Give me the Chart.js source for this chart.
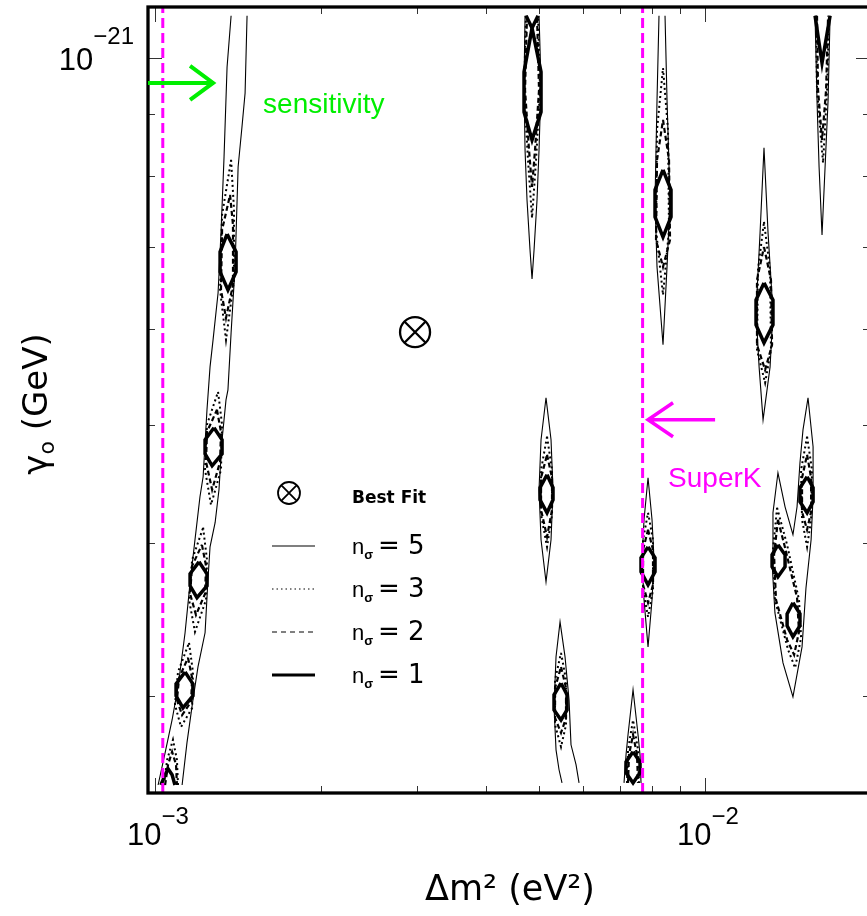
<!DOCTYPE html>
<html>
<head>
<meta charset="utf-8">
<title>gamma0 vs dm2 contours</title>
<script src="https://cdn.jsdelivr.net/npm/chart.js@4.4.1/dist/chart.umd.min.js"></script>
<style>
  html, body { margin: 0; padding: 0; background: #fff; overflow: hidden; }
  #box { width: 867px; height: 916px; overflow: hidden; position: relative; }
  #box canvas { position: absolute; left: 0; top: 0; }
</style>
</head>
<body>
<div id="box"><canvas id="contours" width="880" height="916"></canvas></div>
<script>
// units used in the arrays below
const DM2_UNIT = 1e-3;     // eV^2
const GAMMA_UNIT = 1e-22;  // GeV

// axis limits
const dm2Range = [0.971, 19.95];
const gammaRange = [2.497, 11.01];

// tick marks
const dm2Ticks = [1, 2, 3, 4, 5, 6, 7, 8, 9, 10, 20];
const dm2Decades = [1, 10];
const dm2DecadeExp = ['\u22123', '\u22122'];
const gammaTicks = [3, 4, 5, 6, 7, 8, 9, 10];
const gammaDecades = [10];
const gammaDecadeExp = ['\u221221'];

// best fit and vertical reference lines
const bestFit = [2.97, 5.96];
const sensitivityDm2 = 1.033;
const superKDm2 = 7.70;

// legend
const legendSigmas = [5, 3, 2, 1];

// ---- left band (1.0 - 1.5e-3) ----
const bandLeft5 = [[1.375,10.83],[1.352,9.832],[1.335,8.297],[1.318,7.185],[1.302,6.417],[1.275,5.874],[1.259,5.582],[1.243,5.147],[1.223,4.536],[1.207,4.368],[1.182,4.027],[1.158,3.713],[1.134,3.379],[1.101,3.049],[1.074,2.866],[1.043,2.694],[1.013,2.535]];
const bandRight5 = [[1.470,10.83],[1.458,9.361],[1.439,8.779],[1.416,8.141],[1.398,6.741],[1.375,5.952],[1.357,5.345],[1.346,5.245],[1.324,4.864],[1.307,4.426],[1.286,4.159],[1.259,3.974],[1.248,3.734],[1.233,3.379],[1.197,3.168],[1.172,2.977],[1.143,2.745],[1.120,2.535]];

const band1a = [[1.352,7.171],[1.404,6.935],[1.404,6.678],[1.357,6.454],[1.313,6.678],[1.313,6.935],[1.352,7.171]];
const band1b = [[1.280,4.975],[1.324,4.864],[1.324,4.737],[1.270,4.631],[1.233,4.737],[1.233,4.864],[1.280,4.975]];
const band1c = [[1.202,3.863],[1.243,3.777],[1.243,3.692],[1.192,3.610],[1.158,3.692],[1.158,3.777],[1.202,3.863]];
const band1d = [[1.134,3.138],[1.172,3.068],[1.172,3.000],[1.124,2.932],[1.092,3.000],[1.092,3.068],[1.134,3.138]];
const band1e = [[1.025,2.535],[1.043,2.584],[1.056,2.614],[1.074,2.584],[1.087,2.535]];

const band3a = [[1.375,8.250],[1.392,7.506],[1.392,6.577],[1.346,5.874],[1.313,6.454],[1.324,7.436],[1.375,8.250]];
const band3b = [[1.302,5.325],[1.324,5.004],[1.318,4.596],[1.264,4.302],[1.233,4.596],[1.243,5.004],[1.302,5.325]];
const band3c = [[1.223,4.120],[1.243,3.878],[1.238,3.596],[1.182,3.385],[1.153,3.596],[1.168,3.878],[1.223,4.120]];
const band3d = [[1.153,3.315],[1.172,3.138],[1.168,2.932],[1.115,2.829],[1.087,2.949],[1.101,3.138],[1.153,3.315]];
const band3e = [[1.038,2.535],[1.052,2.658],[1.078,2.761],[1.096,2.658],[1.101,2.535]];

const band2a = [[1.369,7.722],[1.386,7.297],[1.386,6.516],[1.346,6.122],[1.318,6.454],[1.324,7.228],[1.369,7.722]];
const band2b = [[1.296,5.147],[1.318,4.938],[1.313,4.666],[1.270,4.426],[1.238,4.666],[1.243,4.938],[1.296,5.147]];
const band2c = [[1.217,3.989],[1.238,3.834],[1.233,3.637],[1.187,3.495],[1.158,3.637],[1.168,3.834],[1.217,3.989]];
const band2d = [[1.148,3.223],[1.168,3.103],[1.163,2.966],[1.120,2.893],[1.096,2.977],[1.106,3.103],[1.148,3.223]];
const band2e = [[1.043,2.535],[1.056,2.634],[1.074,2.699],[1.092,2.634],[1.096,2.535]];

// ---- island near 4.8e-3, top ----
const islA5 = [[4.707,10.83],[4.687,9.539],[4.707,8.407],[4.746,7.649],[4.806,6.961],[4.847,6.590],[4.888,6.961],[4.949,7.649],[4.991,8.407],[5.033,9.539],[4.991,10.83]];
const islA1 = [[4.847,10.58],[5.033,9.739],[5.033,9.032],[4.847,8.567],[4.687,9.032],[4.687,9.739],[4.847,10.58]];
const islA1v = [[4.727,10.83],[4.847,10.58],[4.970,10.83]];
const islA3 = [[4.727,10.83],[4.687,9.414],[4.766,8.250],[4.847,7.393],[4.929,8.250],[5.012,9.414],[4.970,10.83]];
const islA2 = [[4.746,10.83],[4.707,9.414],[4.786,8.407],[4.847,7.838],[4.908,8.407],[4.991,9.414],[4.949,10.83]];

// ---- island near 8.4e-3, top ----
const islB5 = [[8.247,10.83],[8.179,9.238],[8.111,7.649],[8.179,6.741],[8.387,5.819],[8.529,6.741],[8.637,7.649],[8.529,9.238],[8.458,10.83]];
const islB1 = [[8.387,8.096],[8.673,7.795],[8.673,7.408],[8.387,7.131],[8.111,7.408],[8.111,7.795],[8.387,8.096]];
const islB3 = [[8.387,9.813],[8.564,8.730],[8.600,7.228],[8.387,6.393],[8.145,7.228],[8.179,8.730],[8.387,9.813]];
const islB2 = [[8.387,8.896],[8.600,8.250],[8.637,7.093],[8.387,6.741],[8.145,7.093],[8.179,8.250],[8.387,8.896]];

// ---- island near 1.63e-2, top ----
const islC5 = [[15.85,10.83],[15.98,9.238],[16.12,8.141],[16.32,7.158],[16.53,8.141],[16.74,9.238],[16.88,10.83]];
const islC1 = [[15.85,10.83],[16.32,9.906],[16.88,10.83]];
const islC3 = [[15.92,10.83],[15.98,9.414],[16.39,8.203],[16.67,9.414],[16.81,10.83]];
const islC2 = [[15.98,10.83],[16.05,9.414],[16.32,8.567],[16.60,9.414],[16.74,10.83]];

// ---- island near 1.28e-2 ----
const islD5 = [[12.80,8.439],[13.02,7.185],[13.29,6.192],[13.13,5.582],[12.75,5.051],[12.54,5.582],[12.38,6.192],[12.59,7.185],[12.80,8.439]];
const islD1 = [[12.80,6.540],[13.29,6.334],[13.29,6.042],[12.80,5.841],[12.38,6.042],[12.38,6.334],[12.80,6.540]];
const islD3 = [[12.80,7.338],[13.13,6.703],[13.18,5.764],[12.86,5.416],[12.43,5.764],[12.48,6.703],[12.80,7.338]];
const islD2 = [[12.80,7.000],[13.18,6.577],[13.24,5.819],[12.86,5.550],[12.43,5.819],[12.43,6.577],[12.80,7.000]];

// ---- merged islands 1.35 - 1.57e-2 ----
const islE5 = [[15.39,5.265],[15.72,4.800],[15.72,4.368],[15.59,4.027],[15.26,3.678],[15.01,3.290],[14.45,2.994],[13.86,3.192],[13.40,3.508],[13.24,3.856],[13.29,4.238],[13.57,4.570],[13.98,4.286],[14.45,4.066],[14.70,4.286],[14.88,4.658],[15.07,4.956],[15.39,5.265]];
const islE1a = [[15.33,4.536],[15.72,4.443],[15.72,4.327],[15.33,4.238],[14.88,4.327],[14.88,4.443],[15.33,4.536]];
const islE1b = [[13.57,3.989],[13.98,3.915],[13.98,3.827],[13.57,3.755],[13.24,3.827],[13.24,3.915],[13.57,3.989]];
const islE1c = [[14.45,3.576],[14.88,3.502],[14.88,3.424],[14.45,3.354],[14.10,3.424],[14.10,3.502],[14.45,3.576]];
const islEu3 = [[15.33,4.892],[15.65,4.596],[15.59,4.182],[15.33,3.974],[15.01,4.182],[14.95,4.596],[15.33,4.892]];
const islEu2 = [[15.33,4.728],[15.59,4.527],[15.59,4.246],[15.33,4.104],[15.01,4.246],[15.01,4.527],[15.33,4.728]];
const islEl3 = [[13.52,4.278],[14.10,3.989],[14.82,3.596],[14.95,3.347],[14.58,3.162],[14.16,3.272],[13.40,3.596],[13.29,3.952],[13.52,4.278]];
const islEl2 = [[13.57,4.182],[13.98,3.967],[14.70,3.610],[14.82,3.385],[14.52,3.241],[14.10,3.334],[13.46,3.596],[13.35,3.915],[13.57,4.182]];

// ---- island near 5.15e-3 ----
const islG5 = [[5.139,5.265],[5.248,4.864],[5.292,4.426],[5.248,4.027],[5.139,3.720],[5.033,4.027],[4.991,4.426],[5.033,4.864],[5.139,5.265]];
const islG1 = [[5.161,4.553],[5.292,4.443],[5.292,4.343],[5.161,4.238],[5.012,4.343],[5.012,4.443],[5.161,4.553]];
const islG3 = [[5.161,4.892],[5.270,4.596],[5.270,4.222],[5.161,3.974],[5.033,4.222],[5.033,4.596],[5.161,4.892]];
const islG2 = [[5.161,4.728],[5.270,4.527],[5.270,4.262],[5.161,4.050],[5.033,4.262],[5.033,4.527],[5.161,4.728]];

// ---- island near 5.5e-3, bottom ----
const islH5 = [[5.495,2.545],[5.427,2.609],[5.359,2.709],[5.314,2.938],[5.359,3.229],[5.450,3.449],[5.565,3.229],[5.659,2.977],[5.706,2.735],[5.827,2.634],[5.901,2.545]];
const islH1 = [[5.472,3.072],[5.612,3.006],[5.612,2.921],[5.472,2.866],[5.314,2.921],[5.314,3.006],[5.472,3.072]];
const islH3 = [[5.472,3.253],[5.588,3.091],[5.588,2.840],[5.472,2.724],[5.337,2.840],[5.337,3.091],[5.472,3.253]];
const islH2 = [[5.472,3.168],[5.588,3.045],[5.588,2.877],[5.472,2.797],[5.337,2.877],[5.337,3.045],[5.472,3.168]];

// ---- island near 7.4e-3, bottom ----
const islI5 = [[7.124,2.545],[7.184,2.684],[7.244,2.787],[7.398,3.034],[7.554,2.787],[7.617,2.684],[7.649,2.545]];
const islI1 = [[7.398,2.699],[7.617,2.648],[7.617,2.594],[7.398,2.545],[7.184,2.594],[7.184,2.648],[7.398,2.699]];
const islI3 = [[7.214,2.545],[7.244,2.709],[7.398,2.866],[7.554,2.709],[7.585,2.545]];
const islI2 = [[7.244,2.545],[7.274,2.684],[7.398,2.787],[7.522,2.684],[7.554,2.545]];

// ---- island near 7.9e-3 ----
const islJ5 = [[7.877,4.527],[8.010,4.182],[8.077,3.878],[8.010,3.596],[7.877,3.290],[7.746,3.596],[7.681,3.878],[7.746,4.182],[7.877,4.527]];
const islJ1 = [[7.877,3.974],[8.111,3.893],[8.111,3.791],[7.877,3.699],[7.649,3.791],[7.649,3.893],[7.877,3.974]];
const islJ3 = [[7.877,4.238],[8.043,4.027],[8.043,3.664],[7.877,3.482],[7.714,3.664],[7.714,4.027],[7.877,4.238]];
const islJ2 = [[7.877,4.104],[8.043,3.952],[8.043,3.699],[7.877,3.576],[7.714,3.699],[7.714,3.952],[7.877,4.104]];

// contours grouped by n_sigma
const sigma5 = [bandLeft5, bandRight5, islA5, islB5, islC5, islD5, islE5, islG5, islH5, islI5, islJ5];
const sigma3 = [band3a, band3b, band3c, band3d, band3e, islA3, islB3, islC3, islD3, islEu3, islEl3, islG3, islH3, islI3, islJ3];
const sigma2 = [band2a, band2b, band2c, band2d, band2e, islA2, islB2, islC2, islD2, islEu2, islEl2, islG2, islH2, islI2, islJ2];
const sigma1 = [band1a, band1b, band1c, band1d, band1e, islA1, islA1v, islB1, islC1, islD1, islE1a, islE1b, islE1c, islG1, islH1, islI1, islJ1];

// styles
const levelStyle = {
    5: {borderWidth: 1.1, borderDash: [], order: 4},
    3: {borderWidth: 2, borderDash: [2, 3], order: 3},
    2: {borderWidth: 2.2, borderDash: [5, 3], order: 2},
    1: {borderWidth: 3.5, borderDash: [], order: 1}
};
const legendStyle = {
    5: {w: 1.2, dash: []},
    3: {w: 1, dash: [1.5, 3]},
    2: {w: 1, dash: [5, 4]},
    1: {w: 3, dash: []}
};
const GREEN = '#00ee00', MAGENTA = '#ff00ff';
const TICK_FONT = '"Liberation Sans", Arial, sans-serif';
const TITLE_FONT = '"DejaVu Sans", Verdana, sans-serif';

const toPts = c => c.map(([x, y]) => ({x: x * DM2_UNIT, y: y * GAMMA_UNIT}));

const datasets = [];
[[5, sigma5], [3, sigma3], [2, sigma2], [1, sigma1]].forEach(([n, list]) => {
    list.forEach(c => {
        datasets.push({
            data: toPts(c),
            showLine: true,
            pointRadius: 0,
            borderColor: '#000',
            borderWidth: levelStyle[n].borderWidth,
            borderDash: levelStyle[n].borderDash,
            order: levelStyle[n].order
        });
    });
});

// dashed vertical lines (sensitivity, SuperK)
[sensitivityDm2, superKDm2].forEach(v => {
    datasets.push({
        data: toPts([[v, gammaRange[0]], [v, gammaRange[1]]]),
        showLine: true,
        pointRadius: 0,
        borderColor: MAGENTA,
        borderWidth: 3,
        borderDash: [10, 5],
        order: 0
    });
});

// best fit marker
['circle', 'crossRot'].forEach(style => {
    datasets.push({
        data: toPts([bestFit]),
        pointStyle: style,
        pointRadius: 15,
        borderWidth: 2.3,
        borderColor: '#000',
        backgroundColor: 'rgba(0,0,0,0)',
        order: 0
    });
});

// annotations, in data units
const notes = {
    sensArrow: {from: null, to: [1.275, 9.54]},
    sensText: {at: [1.572, 9.01], text: 'sensitivity'},
    superArrow: {from: [10.43, 5.051], to: [7.877, 5.051]},
    superText: {at: [8.566, 4.45], text: 'SuperK'}
};

function drawArrow(ctx, x0, y0, x1, y1, back, spread) {
    const dir = Math.sign(x1 - x0);
    ctx.beginPath();
    ctx.moveTo(x0, y0); ctx.lineTo(x1, y1);
    ctx.moveTo(x1 - dir * back, y1 - spread); ctx.lineTo(x1, y1); ctx.lineTo(x1 - dir * back, y1 + spread);
    ctx.stroke();
}

function drawPower(ctx, exp, x, base, anchor, raise) {
    ctx.font = '31px ' + TICK_FONT;
    const w1 = ctx.measureText('10').width;
    ctx.font = '24px ' + TICK_FONT;
    const w2 = ctx.measureText(exp).width;
    const x0 = anchor === 'center' ? x - (w1 + w2) / 2 : x - w1 - w2;
    ctx.font = '31px ' + TICK_FONT;
    ctx.fillText('10', x0, base);
    ctx.font = '24px ' + TICK_FONT;
    ctx.fillText(exp, x0 + w1, base - raise);
}

function drawOtimes(ctx, cx, cy, r, w) {
    ctx.lineWidth = w;
    ctx.beginPath();
    ctx.arc(cx, cy, r, 0, Math.PI * 2);
    const d = r * Math.SQRT1_2;
    ctx.moveTo(cx - d, cy - d); ctx.lineTo(cx + d, cy + d);
    ctx.moveTo(cx + d, cy - d); ctx.lineTo(cx - d, cy + d);
    ctx.stroke();
}

const decor = {
    id: 'decor',
    afterDraw(chart) {
        const ctx = chart.ctx, a = chart.chartArea;
        const sx = chart.scales.x, sy = chart.scales.y;
        const X = v => sx.getPixelForValue(v * DM2_UNIT);
        const Y = v => sy.getPixelForValue(v * GAMMA_UNIT);
        ctx.save();
        ctx.textAlign = 'left';
        ctx.textBaseline = 'alphabetic';

        // inward tick marks on all four sides
        ctx.strokeStyle = '#333';
        ctx.lineWidth = 1;
        ctx.setLineDash([]);
        ctx.beginPath();
        dm2Ticks.forEach(v => {
            const px = Math.round(X(v)) + 0.5, len = dm2Decades.includes(v) ? 15 : 7;
            ctx.moveTo(px, a.bottom); ctx.lineTo(px, a.bottom - len);
            ctx.moveTo(px, a.top); ctx.lineTo(px, a.top + len);
        });
        gammaTicks.forEach(v => {
            const py = Math.round(Y(v)) + 0.5, len = gammaDecades.includes(v) ? 14 : 7;
            ctx.moveTo(a.left, py); ctx.lineTo(a.left + len, py);
            ctx.moveTo(a.right, py); ctx.lineTo(a.right - len, py);
        });
        ctx.stroke();

        // frame
        ctx.strokeStyle = '#000';
        ctx.lineWidth = 3.3;
        ctx.strokeRect(a.left, a.top, a.right - a.left, a.bottom - a.top);

        // tick labels
        ctx.fillStyle = '#000';
        dm2Decades.forEach((v, i) => drawPower(ctx, dm2DecadeExp[i], X(v) + 3, a.bottom + 52, 'center', 21));
        gammaDecades.forEach((v, i) => drawPower(ctx, gammaDecadeExp[i], a.left - 14, Y(v) + 12, 'right', 26));

        // axis titles
        ctx.font = '35px ' + TITLE_FONT;
        ctx.textAlign = 'center';
        ctx.fillText('\u0394m\u00b2 (eV\u00b2)', 510, a.bottom + 107);
        ctx.textAlign = 'left';

        ctx.save();
        ctx.translate(a.left - 101, 404);
        ctx.rotate(-Math.PI / 2);
        ctx.font = '34px ' + TITLE_FONT;
        const wg = ctx.measureText('\u03b3').width, wr = ctx.measureText(' (GeV)').width;
        ctx.font = '22px ' + TITLE_FONT;
        const wo = ctx.measureText('o').width;
        let tx = -(wg + wo + wr) / 2;
        ctx.font = '34px ' + TITLE_FONT;
        ctx.fillText('\u03b3', tx, 0);
        ctx.font = '22px ' + TITLE_FONT;
        ctx.fillText('o', tx + wg, 7);
        ctx.font = '34px ' + TITLE_FONT;
        ctx.fillText(' (GeV)', tx + wg + wo, 0);
        ctx.restore();

        // sensitivity arrow + text
        ctx.strokeStyle = GREEN;
        ctx.fillStyle = GREEN;
        ctx.lineWidth = 4;
        const sy0 = Y(notes.sensArrow.to[1]);
        drawArrow(ctx, a.left, sy0, X(notes.sensArrow.to[0]), sy0, 23, 17);
        ctx.font = '28px ' + TICK_FONT;
        ctx.fillText(notes.sensText.text, X(notes.sensText.at[0]), Y(notes.sensText.at[1]));

        // SuperK arrow + text
        ctx.strokeStyle = MAGENTA;
        ctx.fillStyle = MAGENTA;
        ctx.lineWidth = 3.5;
        drawArrow(ctx, X(notes.superArrow.from[0]), Y(notes.superArrow.from[1]),
            X(notes.superArrow.to[0]), Y(notes.superArrow.to[1]), 25, 17);
        ctx.fillText(notes.superText.text, X(notes.superText.at[0]), Y(notes.superText.at[1]));

        // legend
        const lx = a.left + 124, tx0 = a.left + 204, ly0 = a.top + 486;
        ctx.strokeStyle = '#000';
        ctx.fillStyle = '#000';
        drawOtimes(ctx, lx + 17, ly0, 11, 1.8);
        ctx.font = 'bold 17px ' + TITLE_FONT;
        ctx.fillText('Best Fit', tx0, ly0 + 10);
        legendSigmas.forEach((n, i) => {
            const base = ly0 + 61 + i * 43;
            ctx.save();
            ctx.lineWidth = legendStyle[n].w;
            ctx.setLineDash(legendStyle[n].dash);
            ctx.beginPath();
            ctx.moveTo(lx, base - 8); ctx.lineTo(lx + 43, base - 8);
            ctx.stroke();
            ctx.restore();
            ctx.font = '22px ' + TICK_FONT;
            ctx.fillText('n', tx0, base);
            const wn = ctx.measureText('n').width;
            ctx.font = 'bold 13px ' + TICK_FONT;
            ctx.fillText('\u03c3', tx0 + wn, base + 5);
            ctx.font = '26px ' + TITLE_FONT;
            ctx.fillText('= ' + n, tx0 + 26, base);
        });

        ctx.restore();
    }
};

const chart = new Chart(document.getElementById('contours'), {
    type: 'scatter',
    data: {datasets: datasets},
    options: {
        responsive: false,
        animation: false,
        events: [],
        layout: {autoPadding: false, padding: {left: 148, top: 7, right: 10, bottom: 123}},
        plugins: {legend: {display: false}, tooltip: {enabled: false}},
        scales: {
            x: {type: 'logarithmic', display: false, min: dm2Range[0] * DM2_UNIT, max: dm2Range[1] * DM2_UNIT},
            y: {type: 'logarithmic', display: false, min: gammaRange[0] * GAMMA_UNIT, max: gammaRange[1] * GAMMA_UNIT}
        }
    },
    plugins: [decor]
});
</script>
</body>
</html>
